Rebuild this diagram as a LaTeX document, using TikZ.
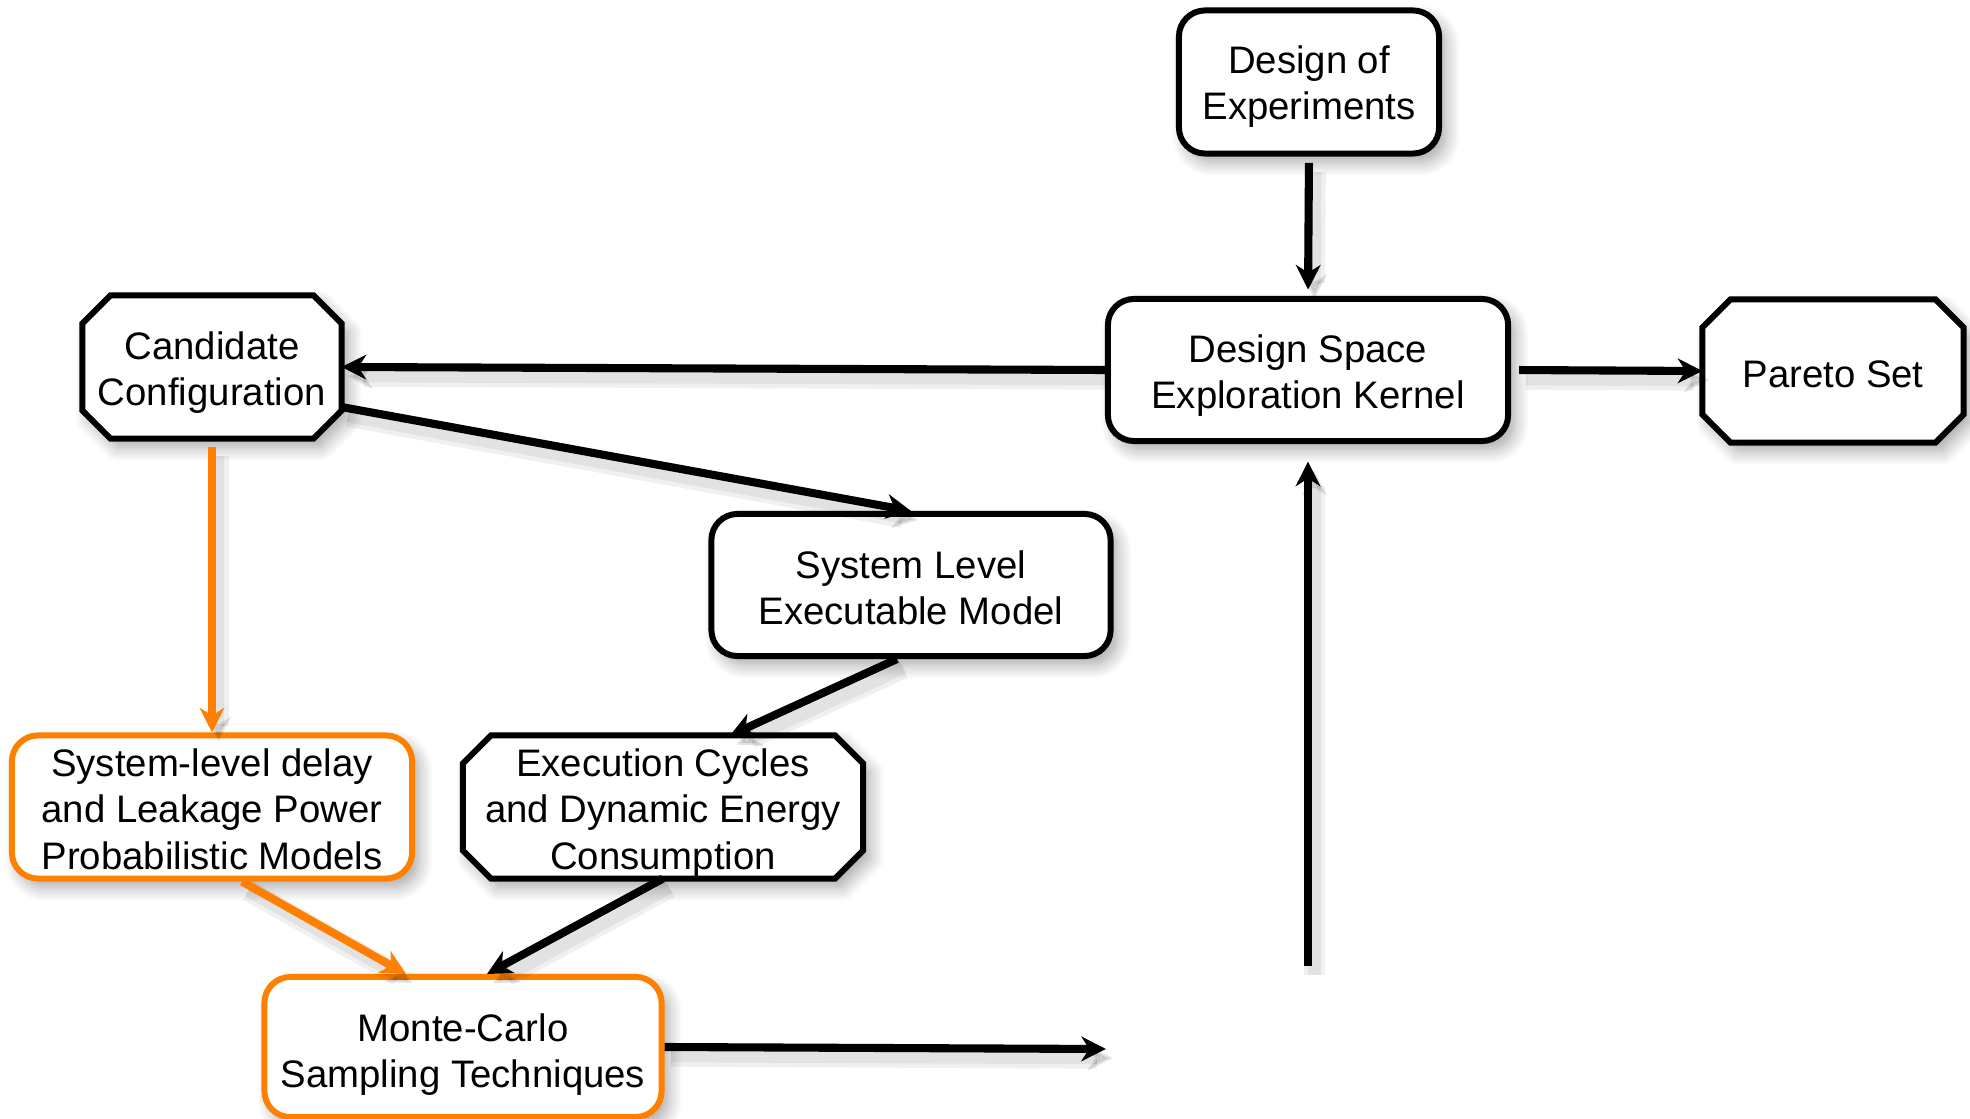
\documentclass[tikz,border=0pt]{standalone}
\usepackage{fontspec}
\setmainfont{Liberation Sans}
\usetikzlibrary{arrows.meta,backgrounds,shadows.blur}
\definecolor{boxorange}{RGB}{255,128,0}
% invisible strut that lowers the text block inside its box by #1/2
\newcommand{\lift}[1]{\rule{0pt}{\dimexpr8pt+#1\relax}}
% size of the cut corners of the octagonal boxes
\newcommand{\chf}{0.28cm}
% octagonal outline drawn round a named text node
\newcommand{\drawoctagon}[1]{%
  \path[octo] ([xshift=\chf]#1.north west) -- ([xshift=-\chf]#1.north east)
    -- ([yshift=-\chf]#1.north east) -- ([yshift=\chf]#1.south east)
    -- ([xshift=-\chf]#1.south east) -- ([xshift=\chf]#1.south west)
    -- ([yshift=\chf]#1.south west) -- ([yshift=-\chf]#1.north west) -- cycle;}
\tikzset{
  boxshadow/.style={blur shadow={shadow xshift=2pt, shadow yshift=-2.5pt,
      shadow blur steps=10, shadow opacity=35, shadow blur radius=4pt}},
  label text/.style={align=center, font=\fontsize{10.9pt}{13.2pt}\selectfont, inner sep=0pt},
  base/.style={label text, draw, line width=1.7pt, fill=white, boxshadow},
  rbox/.style={base, rectangle, rounded corners=0.26cm},
  obox/.style={rbox, draw=boxorange},
  cbox/.style={label text, rectangle, outer sep=0pt},
  octo/.style={draw, line width=1.7pt, fill=white, line join=miter, boxshadow},
  lineshadow/.style={preaction={draw=black, opacity=0.06, line width=6pt,
      transform canvas={shift={(1.8pt,-2.6pt)}}},
    preaction={draw=black, opacity=0.06, line width=3.5pt,
      transform canvas={shift={(1.8pt,-2.6pt)}}}},
  arr/.style={line width=2.3pt, -{Stealth[length=7pt,width=7pt,inset=2.2pt]}, lineshadow},
  oarr/.style={arr, draw=boxorange, fill=boxorange}
}
\begin{document}
\begin{tikzpicture}[x=0.01cm, y=-0.01cm]
  \useasboundingbox (0,0) rectangle (1970,1119);

  % rounded boxes
  \node[rbox, minimum width=2.60cm, minimum height=1.43cm] (doe) at (1309,82) {\lift{2.5pt}Design of\\Experiments};
  \node[rbox, minimum width=4.00cm, minimum height=1.42cm] (dse) at (1308,370) {\lift{3.2pt}Design Space\\Exploration Kernel};
  \node[rbox, minimum width=3.99cm, minimum height=1.42cm] (slm) at (911,585) {\lift{1.4pt}System Level\\Executable Model};
  \node[obox, minimum width=4.00cm, minimum height=1.43cm] (delay) at (212,807) {\lift{1.1pt}System-level delay\\and Leakage Power\\Probabilistic Models};
  \node[obox, minimum width=3.97cm, minimum height=1.40cm] (mc) at (463,1047) {\lift{4.3pt}Monte-Carlo\\Sampling Techniques};

  % octagonal boxes: text nodes with their outline behind them
  \node[cbox, minimum width=2.61cm, minimum height=1.43cm] (pareto) at (1833,371) {\lift{1.7pt}Pareto Set};
  \node[cbox, minimum width=2.59cm, minimum height=1.43cm] (cand) at (212,367) {\lift{3.2pt}Candidate\\Configuration};
  \node[cbox, minimum width=4.00cm, minimum height=1.43cm] (exec) at (663,807) {\lift{3.2pt}Execution Cycles\\and Dynamic Energy\\Consumption};
  \begin{scope}[on background layer]
    \drawoctagon{pareto}
    \drawoctagon{cand}
    \drawoctagon{exec}
  \end{scope}

  % free ends
  \coordinate (mcout) at (1106,1049);
  \coordinate (feedin) at (1308,966);

  % connectors
  \draw[arr, shorten <=1.8pt, shorten >=1.8pt] (doe.south) -- (dse.north);
  \draw[arr] (dse.west) -- (cand.east);
  \draw[arr, shorten <=2.3pt] (dse.east) -- (pareto.west);
  \draw[arr] ([yshift=-0.40cm]cand.east) -- (slm.north);
  \draw[oarr, shorten <=2.5pt] (cand.south) -- (delay.north);
  \draw[arr] ([xshift=-0.14cm]slm.south) -- ([xshift=0.67cm]exec.north);
  \draw[arr] (exec.south) -- ([xshift=0.24cm]mc.north);
  \draw[oarr] ([xshift=0.30cm]delay.south) -- ([xshift=-0.57cm]mc.north);
  \draw[arr] (mc.east) -- (mcout);
  \draw[arr, shorten >=5pt] (feedin) -- (dse.south);
\end{tikzpicture}
\end{document}
